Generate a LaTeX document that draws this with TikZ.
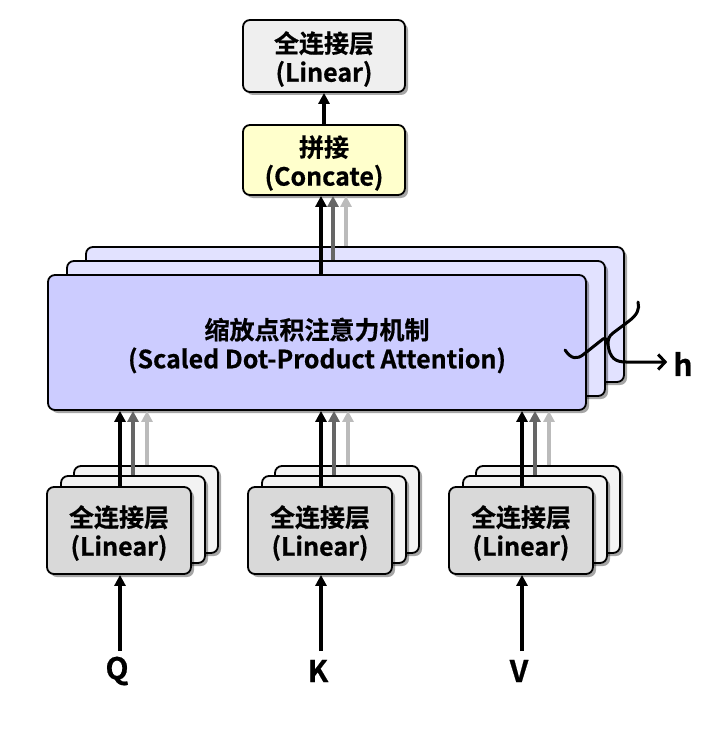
\documentclass[tikz,border=0pt]{standalone}
\usepackage{fontspec}
\setmainfont{Noto Sans CJK SC Bold}[FakeBold=0.6]
\usetikzlibrary{arrows.meta,shadows,calc}
\definecolor{topbg}{HTML}{EFEFEF}
\definecolor{catbg}{HTML}{FFFFCC}
\definecolor{attbg}{HTML}{CCCCFF}
\definecolor{attback}{HTML}{E2E2FF}
\definecolor{linbg}{HTML}{D9D9D9}
\definecolor{linback}{HTML}{F3F3F3}
\definecolor{dgray}{HTML}{666666}
\definecolor{lgray}{HTML}{BBBBBB}
\begin{document}
\begin{tikzpicture}[x=1pt,y=-1pt,
  box/.style={draw=black, line width=1.8pt, rounded corners=7pt,
    drop shadow={shadow xshift=3pt, shadow yshift=-3pt, opacity=0.35, fill=black},
    align=center, inner sep=0pt, font=\fontsize{25}{29}\selectfont},
  attbox/.style={box, minimum width=538pt, minimum height=135pt},
  linbox/.style={box, minimum width=144pt, minimum height=87pt},
  arr/.style={line width=3.2pt, -{Triangle[length=11pt,width=11pt]}},
  lbl/.style={font=\fontsize{30}{32}\selectfont, inner sep=0pt}
]
\useasboundingbox (0,0) rectangle (714,730);

% top
\node[box, fill=topbg, minimum width=162pt, minimum height=72pt] (top) at (324,56) {};
\node[align=center, font=\fontsize{25}{29}\selectfont] (toptxt) at (324,59) {全连接层\\(Linear)};
\node[box, fill=catbg, minimum width=162pt, minimum height=70pt] (cat) at (324,160) {};
\node[align=center, font=\fontsize{25}{29}\selectfont] (cattxt) at (324,163) {拼接\\(Concate)};
\draw[arr] (cat.north) -- (top.south);

% attention stack
\node[attbox, fill=attback] (att3) at (355,314.5) {};
\node[attbox, fill=attback] (att2) at (336,328.5) {};
\node[attbox, fill=attbg] (att) at (317,342.5) {};
\node[align=center, font=\fontsize{25}{29}\selectfont] (atttxt) at (317,345.5) {缩放点积注意力机制\\(Scaled Dot-Product Attention)};

\draw[arr, lgray] ([xshift=-9pt]att3.north) -- ([xshift=-9pt]att3.north |- cat.south);
\draw[arr, dgray] ([xshift=-3pt]att2.north) -- ([xshift=-3pt]att2.north |- cat.south);
\draw[arr, black] ([xshift=4pt]att.north) -- ([xshift=4pt]att.north |- cat.south);

% linear groups
\foreach \g/\dx/\lab in {q/0/Q, k/201/K, v/402/V}{
  \node[linbox, fill=linback] (\g3) at (119+\dx+27,530.5-21) {};
  \node[linbox, fill=linback] (\g2) at (119+\dx+14,530.5-11) {};
  \node[linbox, fill=linbg] (\g1) at (119+\dx,530.5) {};
  \node[align=center, font=\fontsize{25}{29}\selectfont] (\g txt) at (119+\dx,533) {全连接层\\(Linear)};
  \draw[arr, lgray] ([xshift=1pt]\g3.north) -- ([xshift=1pt]\g3.north |- att.south);
  \draw[arr, dgray] (\g2.north) -- (\g2.north |- att.south);
  \draw[arr, black] ([xshift=1pt]\g1.north) -- ([xshift=1pt]\g1.north |- att.south);
  \node[lbl] (\g in) at (117+\dx,671) {\lab};
  \coordinate (\g s) at (120+\dx,651);
  \draw[arr] (\g s) -- ([xshift=1pt]\g1.south);
}

% brace and h
\node[lbl] (h) at (683,364) {h};
\coordinate (tip) at (608,345);
\draw[line width=3pt, line cap=round, line join=round]
  (565,350) .. controls (571,359) and (577,360) .. (584,354)
  -- (603,339) .. controls (606,337) and (607,340) .. (tip)
  .. controls (608,339) and (609,336) .. (613,333)
  -- (629,321) .. controls (637,315) and (640,309) .. (638,302);
\draw[line width=3pt, line cap=round, -{Straight Barb[length=7pt,width=15pt]}]
  (tip) .. controls (610,358) and (615,362) .. (626,362) -- ([xshift=-6pt]h.west |- 0,362);
\end{tikzpicture}
\end{document}
